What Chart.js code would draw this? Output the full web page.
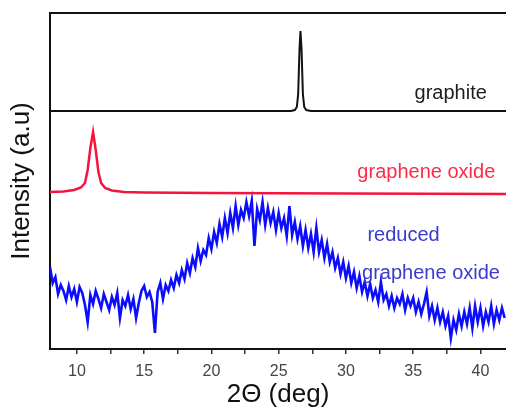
<!DOCTYPE html>
<html>
<head>
<meta charset="utf-8">
<script src="https://cdn.jsdelivr.net/npm/chart.js@4.4.1/dist/chart.umd.min.js"></script>
<style>
  html, body { margin: 0; padding: 0; background: #fff; overflow: hidden; }
  #wrap { width: 506px; height: 408px; position: relative; }
</style>
</head>
<body>
<div id="wrap"><canvas id="xrd"></canvas></div>
<script>
// XRD patterns, intensity in arbitrary units (0..336)
const graphiteTheta = [8, 25.9, 26.2, 26.35, 26.45, 26.55, 26.62, 26.7, 26.8, 26.9, 27.05, 27.4, 41.9];
const graphiteI     = [238, 238, 239, 242, 255, 300, 318, 300, 255, 242, 239, 238, 238];

const goTheta = [8, 9, 9.8, 10.3, 10.6, 10.8, 11.0, 11.2, 11.4, 11.6, 11.8, 12.1, 12.6, 13.5, 15, 20, 30, 41.9];
const goI     = [157, 157.5, 159, 161.5, 166, 179, 201, 217, 199, 177, 166, 161, 158.5, 157, 156.5, 156, 155.5, 155];

// reduced GO, sampled every 0.2 deg from 8.0 to 41.8
const rgoStart = 8;
const rgoStep = 0.2;
const rgoI = [
  82, 66, 72, 55, 64,
  58, 49, 63, 52, 60,
  47, 62, 56, 44, 27,
  54, 45, 58, 50, 41,
  55, 47, 39, 52, 44,
  56, 31, 49, 43, 54,
  40, 50, 31, 46, 58,
  63, 52, 57, 47, 16,
  57, 66, 50, 64, 58,
  69, 61, 74, 66, 79,
  70, 86, 76, 91, 82,
  101, 88, 99, 94, 111,
  100, 117, 106, 125, 112,
  131, 116, 136, 121, 143,
  124, 139, 131, 147, 133,
  148, 103, 140, 129, 147,
  124, 141, 126, 137, 119,
  136, 121, 131, 113, 143,
  114, 127, 110, 123, 103,
  119, 101, 115, 97, 121,
  97, 109, 91, 105, 87,
  97, 81, 91, 75, 87,
  71, 83, 66, 77, 61,
  73, 57, 67, 53, 65,
  51, 59, 47, 67, 49,
  55, 43, 53, 41, 51,
  45, 55, 39, 51, 43,
  51, 37, 47, 35, 45,
  57, 33, 43, 29, 41,
  27, 37, 23, 33, 11,
  29, 19, 35, 23, 37,
  25, 41, 21, 43, 27,
  41, 23, 37, 27, 43,
  25, 39, 29, 41, 31
];

const xTicks = [10, 12.5, 15, 17.5, 20, 22.5, 25, 27.5, 30, 32.5, 35, 37.5, 40];
const xLabels = [10, 15, 20, 25, 30, 35, 40];

const seriesNames = ['graphite', 'graphene oxide', 'reduced graphene oxide'];

function pairs(xs, ys) {
  return ys.map((y, i) => ({ x: xs[i], y: y }));
}
const rgoTheta = rgoI.map((_, i) => +(rgoStart + i * rgoStep).toFixed(2));

// text labels placed in data coordinates
const notes = [
  { text: 'graphite',       x: 35.1,  y: 256, color: '#1c1c1c' },
  { text: 'graphene oxide', x: 30.85, y: 177, color: '#ff2a48' },
  { text: 'reduced',        x: 31.6,  y: 114, color: '#3a3ad0' },
  { text: 'graphene oxide', x: 31.2,  y: 76,  color: '#3a3ad0' }
];

const FONT = 'Liberation Sans, Arial, Helvetica, sans-serif';

const notesPlugin = {
  id: 'notes',
  afterDatasetsDraw(chart) {
    const { ctx, scales } = chart;
    ctx.save();
    ctx.font = '20px ' + FONT;
    ctx.textBaseline = 'middle';
    ctx.textAlign = 'left';
    notes.forEach(n => {
      ctx.fillStyle = n.color;
      ctx.fillText(n.text, scales.x.getPixelForValue(n.x), scales.y.getPixelForValue(n.y));
    });
    ctx.restore();
  }
};

const X_MIN = 8, X_MAX = 41.9;

new Chart(document.getElementById('xrd'), {
  type: 'line',
  data: {
    datasets: [
      { label: seriesNames[0], data: pairs(graphiteTheta, graphiteI), borderColor: '#111', borderWidth: 2 },
      { label: seriesNames[1], data: pairs(goTheta, goI), borderColor: '#f5143c', borderWidth: 2.5 },
      { label: seriesNames[2], data: pairs(rgoTheta, rgoI), borderColor: '#0c0cff', borderWidth: 2.6 }
    ]
  },
  options: {
    responsive: true,
    maintainAspectRatio: false,
    animation: false,
    devicePixelRatio: 1,
    layout: { padding: 0 },
    elements: { point: { radius: 0 }, line: { tension: 0 } },
    plugins: { legend: { display: false }, tooltip: { enabled: false } },
    scales: {
      x: {
        type: 'linear',
        position: 'bottom',
        min: X_MIN,
        max: X_MAX,
        afterBuildTicks: s => { s.ticks = xTicks.map(v => ({ value: v })); },
        afterFit: s => { s.height = 59; },
        ticks: {
          autoSkip: false,
          maxRotation: 0,
          padding: 8,
          color: '#444',
          font: { family: FONT, size: 16 },
          callback: v => xLabels.includes(v) ? String(v) : ''
        },
        grid: { drawOnChartArea: false, drawTicks: true, tickLength: 5, color: '#333', lineWidth: 1.5 },
        border: { display: true, color: '#111', width: 2 },
        title: {
          display: true,
          text: '2\u0398 (deg)',
          color: '#111',
          padding: 0,
          font: { family: FONT, size: 26, lineHeight: 1 }
        }
      },
      x2: {
        type: 'linear',
        position: 'top',
        min: X_MIN,
        max: X_MAX,
        afterFit: s => { s.height = 13; },
        ticks: { display: false },
        grid: { display: false },
        border: { display: true, color: '#111', width: 2 }
      },
      y: {
        type: 'linear',
        min: 0,
        max: 336,
        afterFit: s => { s.width = 50; },
        ticks: { display: false },
        grid: { display: false },
        border: { display: true, color: '#111', width: 2 },
        title: {
          display: true,
          text: 'Intensity (a.u)',
          color: '#111',
          padding: { top: 9, bottom: 0 },
          font: { family: FONT, size: 26, lineHeight: 1 }
        }
      }
    }
  },
  plugins: [notesPlugin]
});
</script>
</body>
</html>
